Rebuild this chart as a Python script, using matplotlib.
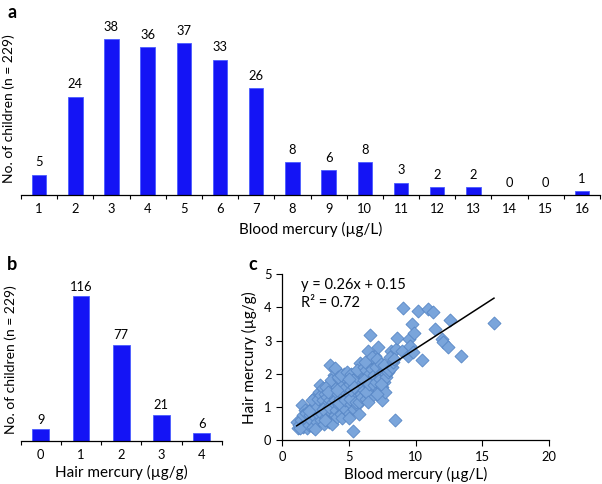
import matplotlib
matplotlib.use("Agg")
import matplotlib.pyplot as plt
import numpy as np

plt.rcParams['font.family'] = ['Lato', 'DejaVu Sans']

# ---------------- data ----------------
blood_bins = [1, 2, 3, 4, 5, 6, 7, 8, 9, 10, 11, 12, 13, 14, 15, 16]
blood_counts = [5, 24, 38, 36, 37, 33, 26, 8, 6, 8, 3, 2, 2, 0, 0, 1]

hair_bins = [0, 1, 2, 3, 4]
hair_counts = [9, 116, 77, 21, 6]

blood_hg = [
    1.10, 1.20, 1.30, 1.40, 1.50, 1.60, 1.70, 1.75, 1.85, 1.90, 1.95, 1.60, 1.35, 1.80,
    2.00, 2.10, 2.15, 2.20, 2.30, 2.35, 2.40, 2.50, 2.50, 2.60, 2.65, 2.70, 2.75, 2.80, 2.85, 2.90, 2.95, 2.45, 2.25, 2.55, 2.70, 2.90, 2.05,
    3.00, 3.05, 3.10, 3.15, 3.20, 3.25, 3.30, 3.35, 3.40, 3.45, 3.50, 3.55, 3.60, 3.60, 3.65, 3.70, 3.75, 3.80, 3.85, 3.90, 3.95, 3.10, 3.30, 3.50, 3.70, 3.85, 3.45, 3.20,
    4.00, 4.00, 4.05, 4.10, 4.15, 4.20, 4.25, 4.30, 4.35, 4.40, 4.45, 4.50, 4.50, 4.55, 4.60, 4.65, 4.70, 4.75, 4.80, 4.85, 4.90, 4.95, 4.20, 4.40, 4.60, 4.80, 4.30, 4.70, 4.90, 4.15,
    5.00, 5.05, 5.10, 5.15, 5.20, 5.25, 5.29, 5.30, 5.35, 5.40, 5.45, 5.50, 5.55, 5.60, 5.65, 5.70, 5.75, 5.79, 5.80, 5.84, 5.85, 5.90, 5.95, 5.10, 5.30, 5.50, 5.70, 5.90, 5.20, 5.60, 5.40, 5.00, 5.75,
    6.00, 6.05, 6.10, 6.15, 6.20, 6.25, 6.30, 6.35, 6.40, 6.46, 6.50, 6.55, 6.58, 6.60, 6.65, 6.70, 6.75, 6.80, 6.85, 6.90, 6.96, 6.10, 6.30, 6.50, 6.70, 6.90, 6.20, 6.40,
    7.00, 7.05, 7.13, 7.20, 7.25, 7.30, 7.35, 7.40, 7.46, 7.50, 7.55, 7.60, 7.70, 7.75, 7.80, 7.90, 7.10, 7.40, 7.65, 7.95,
    8.03, 8.13, 8.20, 8.30, 8.48, 8.50, 8.63, 8.95, 8.10, 8.40,
    9.03, 9.45, 9.50, 9.57, 9.70, 9.82, 9.87, 10.20, 10.50, 10.95, 11.27, 11.45, 11.95, 12.07, 12.40, 12.60, 13.40, 15.86,
]
hair_hg = [
    0.55, 0.38, 0.45, 0.62, 1.05, 0.40, 0.90, 0.50, 0.38, 0.70, 0.58, 0.75, 0.36, 0.82,
    0.45, 0.75, 0.95, 0.60, 1.00, 0.40, 0.85, 1.30, 0.70, 0.55, 1.15, 0.90, 1.45, 0.75, 1.66, 1.05, 0.60, 0.35, 1.20, 0.98, 1.25, 1.35, 0.88,
    0.80, 1.20, 1.56, 0.50, 1.00, 1.40, 0.70, 1.10, 1.30, 0.90, 1.65, 0.55, 2.26, 1.20, 0.85, 1.50, 0.48, 1.05, 1.35, 1.96, 0.75, 0.95, 1.60, 1.00, 1.80, 1.15, 1.45, 0.62,
    2.16, 1.20, 0.90, 1.60, 0.70, 1.40, 1.05, 1.85, 1.25, 0.80, 1.55, 0.66, 1.15, 1.70, 1.35, 2.00, 0.95, 1.45, 1.10, 1.80, 1.25, 0.85, 1.90, 1.95, 1.00, 1.60, 1.12, 1.20, 2.05, 1.50,
    1.40, 0.66, 1.70, 1.10, 2.00, 1.30, 0.28, 1.55, 0.95, 1.85, 1.20, 1.45, 1.65, 1.05, 1.90, 1.35, 2.15, 0.79, 1.55, 2.31, 1.20, 1.75, 2.00, 1.25, 1.80, 1.15, 1.60, 1.40, 1.50, 2.10, 1.60, 1.85, 1.15,
    1.30, 1.65, 2.20, 1.50, 1.90, 1.25, 2.10, 1.75, 1.40, 2.67, 2.00, 1.60, 3.17, 2.30, 1.30, 1.85, 2.15, 1.55, 2.40, 1.95, 2.52, 1.80, 1.45, 1.70, 2.50, 1.65, 2.35, 1.15,
    2.20, 1.75, 2.44, 2.80, 1.50, 2.00, 1.85, 2.30, 1.21, 1.60, 2.05, 1.75, 1.46, 2.00, 1.90, 2.15, 1.40, 1.70, 2.25, 2.05,
    2.11, 2.67, 2.21, 2.35, 0.61, 2.74, 3.09, 2.67, 2.50, 2.45,
    3.97, 2.52, 3.04, 2.84, 3.50, 2.64, 3.22, 3.90, 2.41, 3.94, 3.87, 3.34, 3.04, 2.97, 2.80, 3.62, 2.54, 3.52,
]
fit_slope = 0.26
fit_intercept = 0.15
fit_text = ["y = 0.26x + 0.15", "R² = 0.72"]

# ---------------- figure ----------------
W, H = 602, 484
fig = plt.figure(figsize=(W / 100, H / 100), dpi=100)

def rect(x0, y_top, x1, y_bot):
    return [x0 / W, 1 - y_bot / H, (x1 - x0) / W, (y_bot - y_top) / H]

bar_color = '#1414f5'
bar_edge = '#4a5cff'
tick_fs = 9.3
label_fs = 11
ylabel_fs = 10

# Panel a
axa = fig.add_axes(rect(21, 10.5, 600, 195))
axa.bar(blood_bins, blood_counts, width=0.4, color=bar_color, edgecolor=bar_edge, linewidth=0.6)
for xb, c in zip(blood_bins, blood_counts):
    axa.annotate(str(c), (xb, c), xytext=(0, 4.5), textcoords='offset points',
                 ha='center', va='bottom', fontsize=tick_fs)
axa.set_xlim(0.5, 16.5)
axa.set_ylim(0, 45)
axa.set_xticks(blood_bins)
axa.set_xticks(np.arange(0.5, 17, 1), minor=True)
axa.tick_params(axis='x', which='major', length=0, labelsize=tick_fs, pad=6)
axa.tick_params(axis='x', which='minor', length=3, direction='out', width=0.8)
axa.set_yticks([])
for s in ['top', 'right', 'left']:
    axa.spines[s].set_visible(False)
axa.spines['bottom'].set_linewidth(0.9)
axa.set_xlabel('Blood mercury (µg/L)', fontsize=label_fs, labelpad=5)
axa.set_ylabel('No. of children (n = 229)', fontsize=ylabel_fs)
axa.yaxis.set_label_coords(-0.010, 0.47)

# Panel b
axb = fig.add_axes(rect(20.7, 278.6, 221.7, 440.7))
axb.bar(hair_bins, hair_counts, width=0.42, color=bar_color, edgecolor=bar_edge, linewidth=0.6)
for xb, c in zip(hair_bins, hair_counts):
    axb.annotate(str(c), (xb, c), xytext=(0, 2.5), textcoords='offset points',
                 ha='center', va='bottom', fontsize=tick_fs)
axb.set_xlim(-0.5, 4.5)
axb.set_ylim(0, 130)
axb.set_xticks(hair_bins)
axb.set_xticks(np.arange(-0.5, 5, 1), minor=True)
axb.tick_params(axis='x', which='major', length=0, labelsize=tick_fs, pad=6)
axb.tick_params(axis='x', which='minor', length=3, direction='out', width=0.8)
axb.set_yticks([])
for s in ['top', 'right', 'left']:
    axb.spines[s].set_visible(False)
axb.spines['bottom'].set_linewidth(0.9)
axb.set_xlabel('Hair mercury (µg/g)', fontsize=label_fs, labelpad=3)
axb.set_ylabel('No. of children (n = 229)', fontsize=ylabel_fs, labelpad=3)

# Panel c
axc = fig.add_axes(rect(282, 274, 549.3, 440.3))
axc.scatter(blood_hg, hair_hg, marker='D', s=44, color='#7aa5db',
            edgecolor='#5887c6', linewidth=0.6, zorder=2)
xs = np.array([min(blood_hg), max(blood_hg)])
axc.plot(xs, fit_slope * xs + fit_intercept, color='black', linewidth=1.1, zorder=3)
axc.set_xlim(0, 20)
axc.set_ylim(0, 5)
axc.set_xticks([0, 5, 10, 15, 20])
axc.set_yticks([0, 1, 2, 3, 4, 5])
axc.tick_params(axis='both', length=4, direction='out', width=0.8, labelsize=tick_fs)
for s in ['top', 'right']:
    axc.spines[s].set_visible(False)
axc.spines['bottom'].set_linewidth(0.9)
axc.spines['left'].set_linewidth(0.9)
axc.set_xlabel('Blood mercury (µg/L)', fontsize=label_fs, labelpad=3)
axc.set_ylabel('Hair mercury (µg/g)', fontsize=label_fs, labelpad=5)
axc.text(301 / W, 1 - 285 / H, fit_text[0], transform=fig.transFigure,
         fontsize=10.5, ha='left', va='center')
axc.text(301 / W, 1 - 303 / H, fit_text[1], transform=fig.transFigure,
         fontsize=10.5, ha='left', va='center')

# Panel letters
fig.text(7 / W, 1 - 13 / H, 'a', fontsize=13, fontweight='bold', ha='left', va='center')
fig.text(7 / W, 1 - 264 / H, 'b', fontsize=13, fontweight='bold', ha='left', va='center')
fig.text(248 / W, 1 - 264 / H, 'c', fontsize=13, fontweight='bold', ha='left', va='center')

fig.savefig('out.png', dpi=100)
